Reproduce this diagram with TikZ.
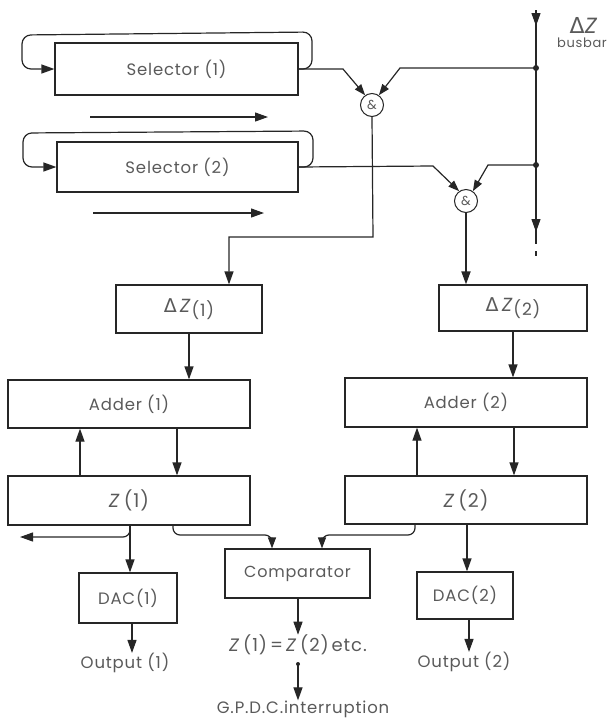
\documentclass[tikz,border=0pt]{standalone}
\usepackage{fontspec}
\setmainfont{Poppins}[LetterSpace=5]
\newfontfamily\symfont{DejaVu Sans}
\usetikzlibrary{arrows.meta}
\definecolor{linec}{HTML}{262626}
\definecolor{txtc}{HTML}{5A5A5A}
\newcommand{\dlt}{{\symfont Δ}}
\begin{document}
\begin{tikzpicture}[x=1pt,y=-1pt,
  every node/.style={text=txtc},
  blk/.style={draw=linec, line width=1.2pt, inner sep=0pt, font=\fontsize{16.5}{18}\selectfont},
  lbl/.style={inner sep=0pt, font=\fontsize{16.5}{18}\selectfont},
  zf/.style={font=\fontsize{19}{20}\selectfont},
  gate/.style={circle, draw=linec, line width=1pt, minimum size=23pt, inner sep=0pt, font=\fontsize{13}{14}\selectfont},
  ln/.style={draw=linec, line width=1.2pt},
  con/.style={ln, -{Triangle[length=13pt,width=9pt]}},
  gcon/.style={ln, -{Triangle[length=11pt,width=8pt]}},
  dotc/.style={fill=linec}]
\useasboundingbox (0,0) rectangle (610,721);

% blocks
\node[blk, minimum width=243pt, minimum height=52pt] (sel1) at (176.5,69) {Selector (1)};
\node[blk, minimum width=241pt, minimum height=50pt] (sel2) at (177.5,167) {Selector (2)};
\node[blk, zf, minimum width=146pt, minimum height=48pt] (dz1) at (189,309) {\dlt\,\textit{Z}\raisebox{-0.45ex}{\fontsize{17}{18}\selectfont(1)}};
\node[blk, zf, minimum width=148pt, minimum height=46pt] (dz2) at (513,308) {\dlt\,\textit{Z}\raisebox{-0.45ex}{\fontsize{17}{18}\selectfont(2)}};
\node[blk, minimum width=242pt, minimum height=48pt] (add1) at (129,404) {Adder (1)};
\node[blk, minimum width=242pt, minimum height=49pt] (add2) at (466,402.5) {Adder (2)};
\node[blk, zf, minimum width=242pt, minimum height=49pt] (z1) at (129,500.5) {\textit{Z}\,(1)};
\node[blk, zf, minimum width=242pt, minimum height=48pt] (z2) at (466,500) {\textit{Z}\,(2)};
\node[blk, minimum width=98pt, minimum height=50pt] (dac1) at (128,598) {DAC(1)};
\node[blk, minimum width=96pt, minimum height=47pt] (dac2) at (465,595.5) {DAC(2)};
\node[blk, font=\fontsize{16}{18}\selectfont, minimum width=145pt, minimum height=49pt] (comp) at (297.5,573.5) {Comparator};

% gates
\node[gate] (g1) at (372,105) {\&};
\node[gate] (g2) at (466,201) {\&};

% labels
\node[lbl, font=\fontsize{18}{19}\selectfont] (eq) at (298,645) {\textit{Z}\,(1)\,=\,\textit{Z}\,(2)\,etc.};
\node[lbl] (gp) at (303,709) {G.P.D.C.interruption};
\node[lbl] (o1) at (125,663) {Output (1)};
\node[lbl] (o2) at (464,662) {Output (2)};
\node[lbl, font=\fontsize{22}{23}\selectfont] (dzl) at (584,25) {\dlt\textit{Z}};
\node[lbl, font=\fontsize{13}{14}\selectfont] (bus) at (582,43) {busbar};

% busbar
\coordinate (bt) at (536,10);
\coordinate (btip) at (536,26);
\coordinate (b1) at (536,68);
\coordinate (b2) at (536,165);
\coordinate (bb) at (536,232);
\coordinate (be) at (536,272);
\draw[ln] (bt) -- (bb);
\draw[con] (bt) -- (btip);
\draw[con] (b2) -- (bb);
\draw[ln, dash pattern=on 12pt off 7pt on 5pt off 20pt] (bb) -- (be);
\fill[dotc] (b1) circle (3pt);
\fill[dotc] (b2) circle (3pt);

% selector loops
\draw[con, rounded corners=9pt] (sel1.east) -- (312,69) -- (312,32) -- (22,35) -- (22,69) -- (sel1.west);
\draw[con, rounded corners=9pt] (sel2.east) -- (313,167) -- (313,131) -- (23,133) -- (23,167) -- (sel2.west);

% shift arrows
\coordinate (s1a) at (90,117);
\coordinate (s1b) at (268,117);
\coordinate (s2a) at (93,213);
\coordinate (s2b) at (264,213);
\draw[con] (s1a) -- (s1b);
\draw[con] (s2a) -- (s2b);

% gate inputs
\draw[gcon] (sel1.east) -- (343,69) -- (g1.125);
\draw[gcon] (b1) -- (400,68) -- (g1.55);
\draw[gcon] (sel2.east) -- (433,166) -- (g2.125);
\draw[gcon] (b2) -- (488,165) -- (g2.55);

% gate outputs
\draw[con] (g1.south) -- (373,237) -- (229,237) -- (dz1.north -| 229,0);
\draw[con, line width=1.8pt] (g2.south) -- (dz2.north -| g2.south);

% vertical chain 1
\draw[con] (dz1.south) -- (add1.north -| dz1.south);
\draw[con] (z1.north -| 80,0) -- (add1.south -| 80,0);
\draw[con] (add1.south -| 177,0) -- (z1.north -| 177,0);
% vertical chain 2
\draw[con] (dz2.south) -- (add2.north -| dz2.south);
\draw[con] (z2.north -| 417,0) -- (add2.south -| 417,0);
\draw[con] (add2.south -| 514,0) -- (z2.north -| 514,0);

% Z outputs
\coordinate (lft) at (20,537);
\draw[con] (z1.south -| 130,0) -- (dac1.north -| 130,0);
\draw[con, rounded corners=7pt] (z1.south -| 130,0) -- (130,537) -- (lft);
\draw[gcon, rounded corners=7pt] (z1.south -| 173,0) -- (173,535) -- (272,535) -- (comp.north -| 272,0);
\draw[gcon, rounded corners=7pt] (z2.south -| 415,0) -- (415,535) -- (322,535) -- (comp.north -| 322,0);
\draw[con] (z2.south -| 467,0) -- (dac2.north -| 467,0);

% outputs
\draw[con] (dac1.south -| 132,0) -- (o1.north -| 132,0);
\draw[con] (dac2.south -| 469,0) -- (o2.north -| 469,0);
\draw[con] (comp.south -| 298,0) -- (eq.north -| 298,0);
\coordinate (gd) at (298,664);
\fill[dotc] (gd) circle (2pt);
\draw[con] (gd) -- (gp.north -| 298,0);
\end{tikzpicture}
\end{document}
